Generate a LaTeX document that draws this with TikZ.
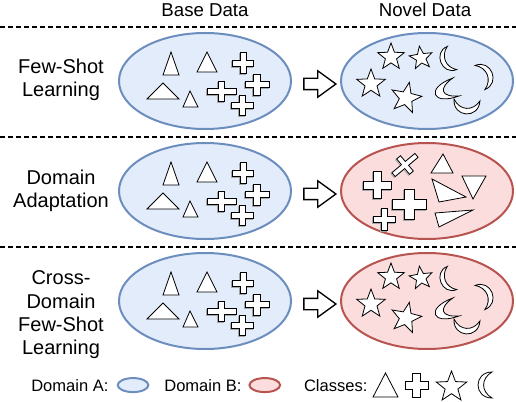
\documentclass[tikz,border=0pt]{standalone}
\usepackage{fontspec}
\setmainfont{Liberation Sans}
\usepackage{tikz}
\usetikzlibrary{shapes.geometric, shapes.arrows, positioning, calc}
\definecolor{domAfill}{HTML}{E3ECFB}
\definecolor{domAline}{HTML}{6C8EBF}
\definecolor{domBfill}{HTML}{FADDDC}
\definecolor{domBline}{HTML}{B85450}
\tikzstyle{domA} = [ellipse, draw=domAline, fill=domAfill, line width=1.5pt, minimum width=129pt, minimum height=72pt, inner sep=0pt]
\tikzstyle{domB} = [ellipse, draw=domBline, fill=domBfill, line width=1.5pt, minimum width=129pt, minimum height=72pt, inner sep=0pt]
\tikzstyle{task} = [align=center, font=\fontsize{15}{17.5}\selectfont]
\tikzstyle{head} = [anchor=base, font=\fontsize{14}{16}\selectfont]
\tikzstyle{legend} = [inner sep=0pt, font=\fontsize{12.4}{14}\selectfont]
\tikzstyle{obj} = [draw=black, fill=white, line width=0.6pt, line join=miter]
\tikzstyle{objshadow} = [draw=black!35, line width=0.6pt]
\tikzstyle{sep} = [black, line width=0.9pt, dash pattern=on 3.75pt off 2.25pt]
\tikzstyle{blockarrow} = [single arrow, draw=black, fill=white, line width=1pt, minimum height=24pt, single arrow head extend=5.6pt, single arrow tip angle=72, inner sep=0pt, text width=0pt, text height=3.75pt, text depth=3.75pt]
% cross shape: style, x, y, half width, half height, half thickness, angle
\newcommand{\plusshape}[7]{\draw[#1, shift={(#2,#3)}, rotate=#7] (-#6,-#5) -- (#6,-#5) -- (#6,-#6) -- (#4,-#6) -- (#4,#6) -- (#6,#6) -- (#6,#5) -- (-#6,#5) -- (-#6,#6) -- (-#4,#6) -- (-#4,-#6) -- (-#6,-#6) -- cycle;}
\newcommand{\plusmark}[6]{\plusshape{objshadow}{#1-1}{#2+1}{#3}{#4}{#5}{#6}\plusshape{obj}{#1}{#2}{#3}{#4}{#5}{#6}}
% star: x, y, radius, angle
\newcommand{\starmark}[4]{\draw[obj, shift={(#1,#2)}] (-90+#4:#3) \foreach \k in {0,...,4}{ -- ({-54+#4+72*\k}:{0.42*#3}) -- ({-18+#4+72*\k}:#3)} -- cycle;}
% crescent: x, y, angle, half chord, depth
\newcommand{\moonmark}[5]{\draw[obj, shift={(#1,#2)}, rotate=#3, xscale=#5, yscale=#4] (0,-1) .. controls (-1.33,-1) and (-1.33,1) .. (0,1) .. controls (-0.8,0.5) and (-0.8,-0.5) .. (0,-1) -- cycle;}

\begin{document}
\begin{tikzpicture}[x=0.75pt, y=-0.75pt]
    \useasboundingbox (0,0) rectangle (516,402);

    \node (headbase) [head] at (205,17) {Base Data};
    \node (headnovel) [head] at (425,17) {Novel Data};

    \foreach \y in {27,137,247} \draw [sep] (0,\y) -- (516,\y);

    \node (task1) [task] at (61,80) {Few-Shot\\Learning};
    \node (task2) [task] at (61,191) {Domain\\Adaptation};
    \node (task3) [task] at (61,315) {Cross-\\Domain\\Few-Shot\\Learning};

    \node (base1) [domA] at (205,81) {};
    \node (novel1) [domA, right=36pt of base1] {};
    \node (base2) [domA] at (205,191) {};
    \node (novel2) [domB, right=36pt of base2] {};
    \node (base3) [domA] at (205,301) {};
    \node (novel3) [domB, right=36pt of base3] {};

    \node (arr1) [blockarrow] at ($(base1.east)!.5!(novel1.west)+(0,3)$) {};
    \node (arr2) [blockarrow] at ($(base2.east)!.5!(novel2.west)+(0,3)$) {};
    \node (arr3) [blockarrow] at ($(base3.east)!.5!(novel3.west)+(0,3)$) {};

    % base data, same in every row
    \foreach \r in {0,1,2} {
        \begin{scope}[shift={(0,110*\r)}]
            \draw [obj] (171,52) -- (163,75) -- (179,75) -- cycle;
            \draw [obj] (207,52) -- (197,72) -- (217,72) -- cycle;
            \draw [obj] (163,83) -- (147,99) -- (179,99) -- cycle;
            \draw [obj] (190,91) -- (183,107) -- (198,107) -- cycle;
            \plusmark{243.3}{63}{10.5}{10.5}{3}{0}
            \plusmark{257}{84.5}{12}{10.5}{3.3}{0}
            \plusmark{221.5}{91.5}{14.5}{10}{3}{0}
            \plusmark{242.5}{105}{11}{10}{3}{0}
        \end{scope}
    }

    % novel classes
    \foreach \r in {0,2} {
        \begin{scope}[shift={(0,110*\r)}]
            \starmark{391}{57}{14}{0}
            \starmark{421}{58}{12}{-8}
            \starmark{371}{84}{15}{0}
            \starmark{406}{98}{16}{12}
            \moonmark{452}{58}{22}{12.5}{12}
            \moonmark{480}{77.5}{202}{13}{13}
            \moonmark{456}{87}{20}{9.5}{22}
            \moonmark{467}{100}{86}{13}{14}
        \end{scope}
    }

    % target domain
    \plusmark{405}{165}{15}{10}{2.5}{40}
    \plusmark{377.5}{185}{14}{13.5}{4}{0}
    \plusmark{409.5}{204}{17}{15}{5}{0}
    \plusmark{384}{219}{11}{11}{3}{0}
    \draw [obj] (443,154) -- (431,173) -- (453,173) -- cycle;
    \draw [obj] (432,179) -- (466,197) -- (439,202) -- cycle;
    \draw [obj] (462,176) -- (486,176) -- (473,199) -- cycle;
    \draw [obj] (435,213) -- (473,210) -- (439,227) -- cycle;

    % legend
    \node (legA) [legend, anchor=base west] at (31,391) {Domain A:};
    \node (legAell) [domA, minimum width=23pt, minimum height=10.5pt, right=6pt of legA] {};
    \node (legB) [legend, right=11pt of legAell] {Domain B:};
    \node (legBell) [domB, minimum width=23pt, minimum height=10.5pt, right=5pt of legB] {};
    \node (legC) [legend, right=17pt of legBell] {Classes:};
    \draw [obj] (385.5,373) -- (373,397) -- (398,397) -- cycle;
    \plusshape{obj}{416.5}{385}{11.5}{12}{4}{0}
    \starmark{451.5}{387}{16}{0}
    \moonmark{492}{385}{0}{13}{14}
\end{tikzpicture}
\end{document}
